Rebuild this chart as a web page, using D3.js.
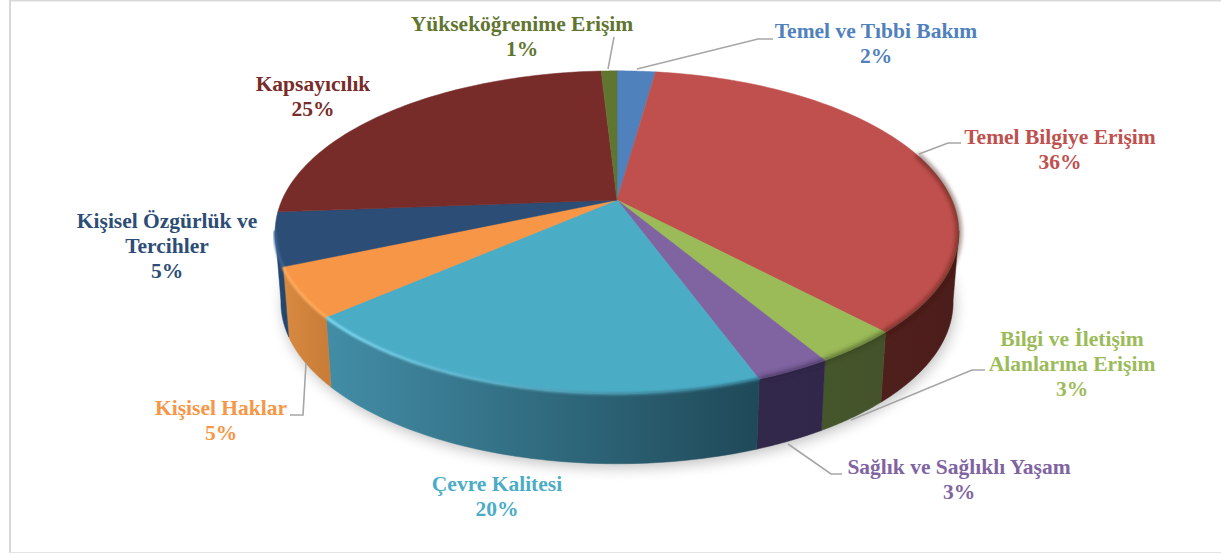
<!DOCTYPE html>
<html>
<head>
<meta charset="utf-8">
<script src="https://cdnjs.cloudflare.com/ajax/libs/d3/7.8.5/d3.min.js"></script>
<style>
html, body { margin: 0; padding: 0; background: #fff; }
svg { display: block; }
text { font-family: "Liberation Serif", serif; font-weight: bold; font-size: 21.5px; text-anchor: middle; }
</style>
</head>
<body>
<div id="chart"></div>
<script>
var categories = ["Temel ve Tıbbi Bakım", "Temel Bilgiye Erişim", "Bilgi ve İletişim Alanlarına Erişim",
    "Sağlık ve Sağlıklı Yaşam", "Çevre Kalitesi", "Kişisel Haklar",
    "Kişisel Özgürlük ve Tercihler", "Kapsayıcılık", "Yükseköğrenime Erişim"];
// the labels round them
var values = [2.2, 35.8, 3.4, 3.0, 19.2, 4.9, 5.3, 25.3, 0.9];
var topColors = ["#4f81bd", "#c0504d", "#9bbb59", "#8064a2", "#4bacc6", "#f79646", "#2c4d75", "#772c2a", "#5f7530"];
var wallLeft = ["#3c6590", "#4f1f1c", "#46562b", "#32284a", "#428da6", "#d98a41", "#25466d", "#6a2725", "#4a5c26"];
var wallRight = ["#3c6590", "#4b1d1a", "#43522a", "#31274a", "#1f4958", "#c97d38", "#25466d", "#6a2725", "#4a5c26"];
var rimLeft = ["#4f81bd", "#3a1512", "#2f3c1a", "#2a2140", "#80def7", "#ffab5e", "#3a6596", "#772c2a", "#5f7530"];
var rimRight = ["#4f81bd", "#3a1512", "#2f3c1a", "#2a2140", "#2a6a7e", "#ffab5e", "#3a6596", "#772c2a", "#5f7530"];
var labelLines = [["Temel ve Tıbbi Bakım", "2%"], ["Temel Bilgiye Erişim", "36%"],
    ["Bilgi ve İletişim", "Alanlarına Erişim", "3%"], ["Sağlık ve Sağlıklı Yaşam", "3%"],
    ["Çevre Kalitesi", "20%"], ["Kişisel Haklar", "5%"],
    ["Kişisel Özgürlük ve", "Tercihler", "5%"], ["Kapsayıcılık", "25%"], ["Yükseköğrenime Erişim", "1%"]];
var labelX = [876, 1060, 1072, 959, 497, 221, 167, 313, 522];
var labelY = [38, 144, 346, 474, 491, 415, 228, 91, 31];
var leaderLines = [
    [[637, 69], [758, 39], [773, 39]],
    [[919, 154], [948, 143], [961, 143]],
    [[851, 420], [972, 370], [985, 370]],
    [[788, 444], [831, 474], [842, 474]],
    [[306, 363], [303, 415], [290, 415]],
    null, null, null,
    [[608, 69], [614, 37]]
];

var W = 1221, H = 554;
var cx = 617, cy = 200;
var unitR = 335, unitB = 155, depth = 70, persp = 0.2, taper = 0.017;

var svg = d3.select("#chart").append("svg").attr("width", W).attr("height", H);
var defs = svg.append("defs");

function blurFilter(id, dev) {
    defs.append("filter").attr("id", id).attr("x", "-15%").attr("y", "-15%").attr("width", "130%").attr("height", "130%")
        .append("feGaussianBlur").attr("stdDeviation", dev);
}
blurFilter("shadow", 7);
blurFilter("rim", 1.3);
blurFilter("rimDark", 2.4);

// frame, the right side has none
svg.append("line").attr("x1", 10).attr("x2", 10).attr("y1", 0).attr("y2", 553).attr("stroke", "#d9d9d9").attr("stroke-width", 2);
svg.append("line").attr("x1", 10).attr("x2", W).attr("y1", 0.5).attr("y2", 0.5).attr("stroke", "#d9d9d9").attr("stroke-width", 2);
svg.append("line").attr("x1", 10).attr("x2", W).attr("y1", 552.5).attr("y2", 552.5).attr("stroke", "#e3e3e3").attr("stroke-width", 1);

var xScale = d3.scaleLinear().domain([-1, 1]).range([cx - unitR, cx + unitR]);
var yScale = d3.scaleLinear().domain([-1, 1]).range([cy - unitB, cy + unitB]);

// circle angle (0 at the top, clockwise) to the tilted page position
function project(a, r, z) {
    var X = r * Math.sin(a), Y = -r * Math.cos(a);
    var w = 1 - persp * Y;
    var px = xScale(X / w);
    return [cx + (px - cx) * (1 - taper * z), yScale(Y / w) + z * depth];
}
function arcPoints(a0, a1, z) {
    return d3.range(0, 61).map(function(i) {
        return project(a0 + (a1 - a0) * i / 60, 1, z);
    });
}
var line = d3.line();
var deg = Math.PI / 180;

var arcs = d3.pie().sort(null)(values);

// walls only between the two widest points of the rim
var wallFrom = 101 * deg, wallTo = 259 * deg;
function wallPath(a0, a1) {
    var top = arcPoints(a0, a1, 0), bottom = arcPoints(a0, a1, 1).reverse();
    return line(top.concat(bottom)) + "Z";
}

svg.append("path")
    .attr("d", line(arcPoints(0, Math.PI * 2, 1).map(function(p) { return [p[0] + 2, p[1] + 4]; })) + "Z")
    .attr("fill", "#8c8c8c").attr("opacity", 0.55).attr("filter", "url(#shadow)");

function addGradient(id, a0, a1, c0, c1) {
    var pts = arcPoints(a0, a1, 0);
    defs.append("linearGradient").attr("id", id)
        .attr("gradientUnits", "userSpaceOnUse")
        .attr("x1", d3.min(pts, function(p) { return p[0]; })).attr("x2", d3.max(pts, function(p) { return p[0]; }))
        .attr("y1", 0).attr("y2", 0)
        .selectAll("stop").data([c0, c1]).join("stop")
        .attr("offset", function(c, k) { return k; }).attr("stop-color", function(c) { return c; });
}

var wallData = arcs.map(function(d, i) {
    return { i: i, a0: Math.max(d.startAngle, wallFrom), a1: Math.min(d.endAngle, wallTo) };
}).filter(function(d) { return d.a1 > d.a0; });

wallData.forEach(function(d) {
    addGradient("wall" + d.i, d.a0, d.a1, wallLeft[d.i], wallRight[d.i]);
});

svg.append("g").selectAll("path").data(wallData).join("path")
    .attr("d", function(d) { return wallPath(d.a0, d.a1); })
    .attr("fill", function(d) { return "url(#wall" + d.i + ")"; })
    .attr("stroke", function(d) { return "url(#wall" + d.i + ")"; })
    .attr("stroke-width", 0.5);

svg.append("g").selectAll("path").data(arcs).join("path")
    .attr("d", function(d) {
        return line([project(0, 0, 0)].concat(arcPoints(d.startAngle, d.endAngle, 0))) + "Z";
    })
    .attr("fill", function(d, i) { return topColors[i]; })
    .attr("stroke", function(d, i) { return topColors[i]; })
    .attr("stroke-width", 0.5);

// soft bevel along the rim: light on the left slices, dark on the right ones
var rimData = arcs.map(function(d, i) {
    return { i: i, a0: Math.max(d.startAngle, 72 * deg), a1: Math.min(d.endAngle, wallTo) };
}).filter(function(d) { return d.a1 > d.a0; });

rimData.forEach(function(d) {
    addGradient("rim" + d.i, d.a0, d.a1, rimLeft[d.i], rimRight[d.i]);
});

svg.append("g").selectAll("path").data(rimData).join("path")
    .attr("filter", function(d) { return d.i < 4 ? "url(#rimDark)" : "url(#rim)"; })
    .attr("d", function(d) { return line(arcPoints(d.a0, d.a1, 0)); })
    .attr("fill", "none")
    .attr("stroke", function(d) { return "url(#rim" + d.i + ")"; })
    .attr("stroke-opacity", function(d) { return d.i < 4 ? 0.8 : 1; })
    .attr("stroke-width", function(d) { return d.i < 4 ? 3.5 : 2.8; });

svg.append("g").selectAll("path").data(leaderLines.filter(Boolean)).join("path")
    .attr("d", function(d) { return line(d); })
    .attr("fill", "none").attr("stroke", "#a6a6a6").attr("stroke-width", 1.6);

labelLines.forEach(function(lines, i) {
    svg.append("text").attr("fill", topColors[i])
        .selectAll("tspan").data(lines).join("tspan")
        .attr("x", labelX[i]).attr("y", function(d, k) { return labelY[i] + k * 25; })
        .text(function(d) { return d; });
});
</script>
</body>
</html>
